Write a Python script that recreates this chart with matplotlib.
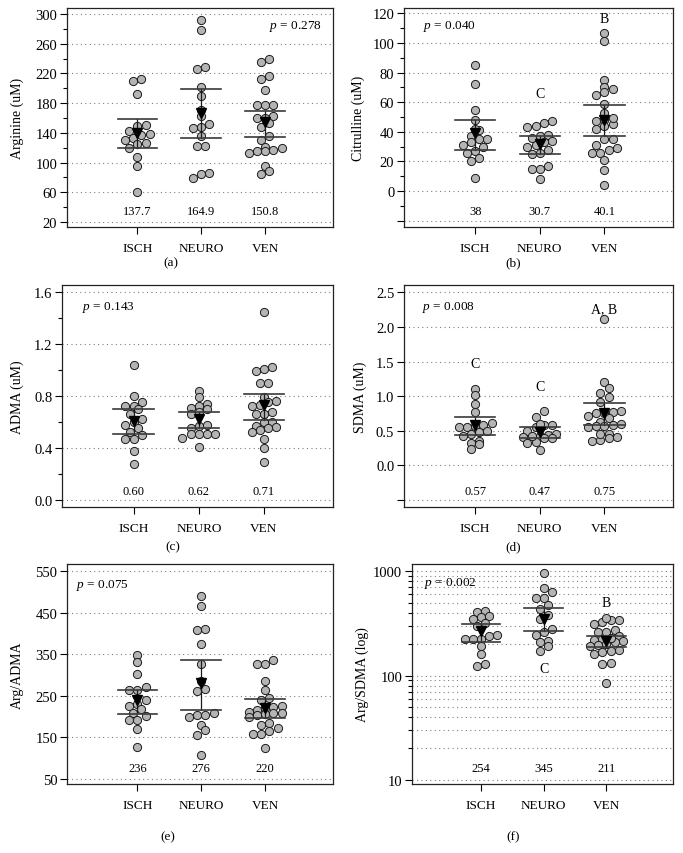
import numpy as np
import matplotlib
matplotlib.use('Agg')
import matplotlib.pyplot as plt
import matplotlib.transforms as mtransforms
from matplotlib.ticker import FixedLocator, NullFormatter, LogLocator, NullLocator

plt.rcParams['font.family'] = ['Liberation Serif', 'DejaVu Serif']
plt.rcParams['mathtext.fontset'] = 'custom'
plt.rcParams['mathtext.rm'] = 'Liberation Serif'
plt.rcParams['mathtext.it'] = 'Liberation Serif:italic'

groups = ['ISCH', 'NEURO', 'VEN']

# ---------------- data ----------------
# (a) Arginine
a_isch = [210, 212, 192, 149, 150, 137, 142, 139, 131, 133, 127, 125, 120, 108, 96, 60]
a_neuro = [292, 278, 226, 228, 202, 189, 171, 162, 152, 148, 146, 136, 122, 122, 86, 84, 79]
a_ven = [236, 239, 212, 216, 197, 177, 177, 177, 160, 160, 162, 148, 153, 136, 131, 120, 121,
         113, 115, 115, 117, 95, 88, 84]
a_mean = [140, 167, 154]
a_lo = [119, 133, 134]
a_hi = [159, 199, 170]
a_labels = ['137.7', '164.9', '150.8']

# (b) Citrulline
b_isch = [85, 72, 55, 48, 41, 42, 35, 37, 35, 31, 33, 30, 27, 26, 22, 20, 9]
b_neuro = [46, 47, 43, 44, 38, 37, 34, 36, 33, 30, 31, 28, 25, 26, 15, 15, 17, 8]
b_ven = [107, 101, 75, 69, 70, 65, 67, 59, 53, 45, 47, 49, 48, 44, 42, 35, 35, 31, 29, 28, 26,
         26, 21, 14, 4]
b_mean = [39, 32, 48]
b_lo = [28, 25, 37]
b_hi = [48, 37, 58]
b_labels = ['38', '30.7', '40.1']

# (c) ADMA
c_isch = [1.04, 0.80, 0.72, 0.72, 0.75, 0.66, 0.70, 0.62, 0.60, 0.55, 0.52, 0.50, 0.47, 0.47,
          0.38, 0.28, 0.58]
c_neuro = [0.84, 0.79, 0.72, 0.74, 0.71, 0.68, 0.70, 0.66, 0.58, 0.57, 0.55, 0.51, 0.48, 0.51,
           0.51, 0.51, 0.41]
c_ven = [1.45, 1.02, 0.99, 1.01, 0.90, 0.90, 0.79, 0.76, 0.75, 0.72, 0.73, 0.66, 0.68, 0.66,
         0.60, 0.60, 0.57, 0.56, 0.52, 0.54, 0.55, 0.47, 0.40, 0.29]
c_mean = [0.61, 0.62, 0.73]
c_lo = [0.51, 0.55, 0.615]
c_hi = [0.70, 0.68, 0.815]
c_labels = ['0.60', '0.62', '0.71']

# (d) SDMA
d_isch = [1.11, 1.01, 0.88, 0.77, 0.56, 0.58, 0.57, 0.61, 0.48, 0.50, 0.45, 0.43, 0.35, 0.33,
          0.31, 0.24, 0.55]
d_neuro = [0.78, 0.70, 0.56, 0.58, 0.58, 0.60, 0.50, 0.41, 0.43, 0.44, 0.45, 0.34, 0.32, 0.22,
           0.40, 0.42, 0.39]
d_ven = [2.12, 1.21, 1.12, 1.05, 0.99, 0.91, 0.75, 0.77, 0.75, 0.79, 0.68, 0.72, 0.62, 0.57,
         0.56, 0.58, 0.57, 0.46, 0.40, 0.41, 0.35, 0.36, 0.45, 0.60]
d_mean = [0.59, 0.48, 0.75]
d_lo = [0.445, 0.39, 0.59]
d_hi = [0.70, 0.55, 0.90]
d_labels = ['0.57', '0.47', '0.75']

# (e) Arg/ADMA
e_isch = [348, 331, 304, 264, 265, 271, 226, 231, 218, 209, 202, 191, 192, 170, 127, 240]
e_neuro = [490, 467, 408, 411, 376, 326, 285, 261, 267, 200, 203, 205, 208, 181, 168, 155, 108]
e_ven = [326, 326, 336, 285, 264, 246, 240, 226, 222, 223, 215, 206, 210, 212, 204, 208, 186,
         181, 172, 166, 158, 158, 124, 200]
e_mean = [240, 282, 220]
e_lo = [207, 217, 197]
e_hi = [264, 336, 242]
e_labels = ['236', '276', '220']

# (f) Arg/SDMA (log)
f_isch = [410, 413, 362, 375, 348, 317, 300, 224, 224, 222, 242, 245, 190, 161, 124, 128]
f_neuro = [970, 690, 630, 550, 560, 480, 430, 380, 350, 280, 260, 245, 215, 210, 193, 170]
f_ven = [324, 339, 357, 343, 310, 275, 259, 262, 242, 223, 220, 215, 210, 196, 200, 190, 176,
         161, 168, 172, 129, 131, 85, 230]
f_mean = [267, 351, 214]
f_lo = [209, 267, 186]
f_hi = [309, 447, 242]
f_labels = ['254', '345', '211']

# ---------------- figure ----------------
W, H = 683, 854
fig = plt.figure(figsize=(W / 100, H / 100), dpi=100)


def add_ax(l, t, r, b):
    return fig.add_axes([l / W, 1 - b / H, (r - l) / W, (b - t) / H])


def swarm_x(ax, xc, vals, d_px, frac=0.75, max_row=5):
    vals = np.asarray(vals, float)
    pts = ax.transData.transform(np.column_stack([np.full(len(vals), xc), vals]))
    ypix = pts[:, 1]
    p = ax.transData.transform([[0, vals[0]], [1, vals[0]]])
    ppu = p[1, 0] - p[0, 0]
    order = np.argsort(ypix)
    xs = np.full(len(vals), float(xc))
    i = 0
    while i < len(order):
        start = ypix[order[i]]
        j = i
        while (j < len(order) and ypix[order[j]] - start < d_px * frac
               and j - i < max_row):
            j += 1
        members = order[i:j]
        n = len(members)
        for k, m in enumerate(members):
            xs[m] = xc + (k - (n - 1) / 2) * d_px / ppu
        i = j
    return xs


panels = [
    dict(rect=(67, 9, 333, 228), data=[a_isch, a_neuro, a_ven], mean=a_mean, lo=a_lo, hi=a_hi,
         labels=a_labels, ylim=(13.3, 308), yticks=list(range(20, 301, 40)),
         yticklabels=[str(v) for v in range(20, 301, 40)], minor=list(range(40, 300, 40)),
         ylabel='Arginine (uM)', ylx=17, p='$p$ = 0.278', pxy=(322, 26), pha='right',
         cap='(a)', capxy=(171, 263), letters=[], log=False),
    dict(rect=(404, 9, 673, 228), data=[b_isch, b_neuro, b_ven], mean=b_mean, lo=b_lo, hi=b_hi,
         labels=b_labels, ylim=(-24.3, 123.6), yticks=list(range(-20, 121, 20)),
         yticklabels=[''] + [str(v) for v in range(0, 121, 20)],
         minor=list(range(-10, 120, 20)),
         ylabel='Citrulline (uM)', ylx=358, p='$p$ = 0.040', pxy=(423, 26), pha='left',
         cap='(b)', capxy=(513, 263), letters=[(2, 66, 'C'), (3, 116.5, 'B')], log=False),
    dict(rect=(62, 286, 333, 508), data=[c_isch, c_neuro, c_ven], mean=c_mean, lo=c_lo, hi=c_hi,
         labels=c_labels, ylim=(-0.054, 1.654), yticks=[0.0, 0.4, 0.8, 1.2, 1.6],
         yticklabels=['0.0', '0.4', '0.8', '1.2', '1.6'], minor=[0.2, 0.6, 1.0, 1.4],
         ylabel='ADMA (uM)', ylx=17, p='$p$ = 0.143', pxy=(82, 308), pha='left',
         cap='(c)', capxy=(173, 547), letters=[], log=False),
    dict(rect=(404, 286, 673, 508), data=[d_isch, d_neuro, d_ven], mean=d_mean, lo=d_lo, hi=d_hi,
         labels=d_labels, ylim=(-0.601, 2.605), yticks=[-0.5, 0.0, 0.5, 1.0, 1.5, 2.0, 2.5],
         yticklabels=['', '0.0', '0.5', '1.0', '1.5', '2.0', '2.5'], minor=[],
         ylabel='SDMA (uM)', ylx=360, p='$p$ = 0.008', pxy=(422, 308), pha='left',
         cap='(d)', capxy=(513, 547),
         letters=[(1, 1.465, 'C'), (2, 1.14, 'C'), (3, 2.27, 'A, B')], log=False),
    dict(rect=(67, 565, 333, 785), data=[e_isch, e_neuro, e_ven], mean=e_mean, lo=e_lo, hi=e_hi,
         labels=e_labels, ylim=(38, 567.6), yticks=list(range(50, 551, 100)),
         yticklabels=[str(v) for v in range(50, 551, 100)], minor=[],
         ylabel='Arg/ADMA', ylx=17, p='$p$ = 0.075', pxy=(76, 586), pha='left',
         cap='(e)', capxy=(168, 837), letters=[], log=False),
    dict(rect=(412, 565, 673, 785), data=[f_isch, f_neuro, f_ven], mean=f_mean, lo=f_lo, hi=f_hi,
         labels=f_labels, ylim=(9.1, 1175), yticks=[10, 100, 1000],
         yticklabels=['10', '100', '1000'], minor=None,
         ylabel='Arg/SDMA (log)', ylx=362, p='$p$ = 0.002', pxy=(424, 584), pha='left',
         cap='(f)', capxy=(513, 837), letters=[(3, 504, 'B'), (2, 117, 'C')], log=True),
]

xpos = [1, 2, 3]
grid_kw = dict(ls=(0, (1, 3)), lw=0.8, color='#808080')
D_PX = 8.2

for P in panels:
    ax = add_ax(*P['rect'])
    if P['log']:
        ax.set_yscale('log')
    ax.set_xlim(-0.1, 4.06)
    ax.set_ylim(*P['ylim'])
    ax.set_xticks(xpos)
    ax.set_xticklabels(groups, fontsize=9.5)
    ax.set_yticks(P['yticks'])
    ax.set_yticklabels(P['yticklabels'], fontsize=10.5)
    if P['log']:
        ax.yaxis.set_minor_locator(LogLocator(base=10, subs=np.arange(2, 10)))
        ax.yaxis.set_minor_formatter(NullFormatter())
        ax.yaxis.grid(True, which='both', **grid_kw)
    else:
        if P['minor']:
            ax.yaxis.set_minor_locator(FixedLocator(P['minor']))
        else:
            ax.yaxis.set_minor_locator(NullLocator())
        ax.yaxis.grid(True, which='major', **grid_kw)
    ax.set_axisbelow(True)
    ax.tick_params(axis='both', which='major', direction='out', length=5, width=0.8,
                   color='black', pad=2)
    ax.tick_params(axis='x', pad=6)
    ax.tick_params(axis='y', which='minor', direction='out', length=3, width=0.8)
    for s in ax.spines.values():
        s.set_linewidth(0.9)
        s.set_color('#222222')

    for xi, vals in zip(xpos, P['data']):
        xs = swarm_x(ax, xi, vals, D_PX)
        ax.plot(xs, vals, 'o', ms=5.9, mfc='#b4b4b4', mec='#1a1a1a', mew=0.7, ls='none', zorder=3)

    hw = 0.31
    for xi, m, lo, hi in zip(xpos, P['mean'], P['lo'], P['hi']):
        ax.plot([xi, xi], [lo, hi], color='#1a1a1a', lw=0.9, zorder=4)
        ax.plot([xi - hw, xi + hw], [lo, lo], color='#3a3a3a', lw=1.2, zorder=4)
        ax.plot([xi - hw, xi + hw], [hi, hi], color='#3a3a3a', lw=1.2, zorder=4)
        ax.plot([xi], [m], 'v', ms=7.5, color='black', zorder=5)

    trans = mtransforms.blended_transform_factory(ax.transData, ax.transAxes)
    for xi, lab in zip(xpos, P['labels']):
        ax.text(xi, 0.072, lab, transform=trans, ha='center', va='center', fontsize=9)

    for xi, yv, t in P['letters']:
        ax.text(xi, yv, t, ha='center', va='center', fontsize=10)

    fig.text(P['pxy'][0] / W, 1 - P['pxy'][1] / H, P['p'], ha=P['pha'], va='center', fontsize=9.5)
    rl, rt, rr, rb = P['rect']
    fig.text(P['ylx'] / W, 1 - ((rt + rb) / 2) / H, P['ylabel'], rotation=90,
             ha='center', va='center', fontsize=10)
    fig.text(P['capxy'][0] / W, 1 - P['capxy'][1] / H, P['cap'], ha='center', va='center',
             fontsize=9.5)

fig.savefig('out.png', dpi=100)
